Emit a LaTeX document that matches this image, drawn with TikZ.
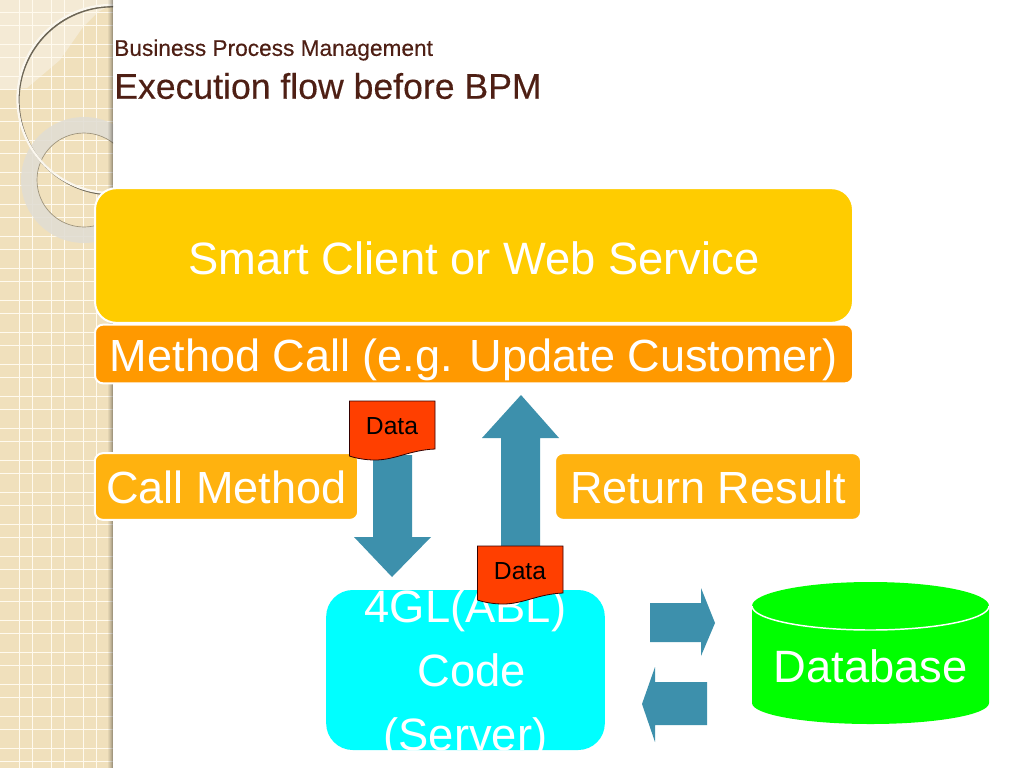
\documentclass[tikz,border=0pt]{standalone}
\usepackage{fontspec}
\setmainfont{Liberation Sans}
\newfontfamily\titlefont[FakeBold=0.35]{Liberation Sans}
\usetikzlibrary{calc}
\definecolor{strip}{HTML}{F0E0BC}
\definecolor{stripl}{HTML}{F4EAD5}
\definecolor{arrowc}{HTML}{3D90AC}
\definecolor{titlec}{HTML}{4E1F14}
\definecolor{datac}{HTML}{FF3F00}
\definecolor{pureCyan}{RGB}{0,255,255}
\definecolor{pureGreen}{RGB}{0,255,0}
\definecolor{ringc}{HTML}{E1DDD3}
\newcommand{\basetext}[2]{\raisebox{#1}[0pt][0pt]{#2}}
\tikzset{
  x=0.75pt,y=-0.75pt,
  box/.style={draw=white,line width=1.5pt,inner sep=0pt,text=white,font=\fontsize{34}{39}\selectfont,align=center},
  blockarrow/.style={fill=arrowc,draw=none},
  note/.style={fill=datac,draw=black!80!red,line width=0.6pt},
  notetext/.style={font=\fontsize{18.5}{22}\selectfont,text=black,inner sep=0pt},
  gridline/.style={draw={rgb,255:red,255;green,250;blue,238},line width=0.75pt}
}
\begin{document}
\begin{tikzpicture}
\useasboundingbox (0,0) rectangle (1024,768);
\fill[white] (0,0) rectangle (1024,768);
% side strip
\fill[strip] (0,0) rectangle (113,768);
\fill[stripl] (0,0) -- (113,0) -- (113,4) -- (98,12) -- (83,27) -- (60,60) -- (27,88) -- (0,90) -- cycle;
\begin{scope}
\clip (0,0) rectangle (113,768);
\foreach \i in {0,1,2,3} {
  \draw[gridline] ({19.3+32*\i},0) -- ({19.3+32*\i},768);
  \draw[gridline] ({32.3+32*\i},0) -- ({32.3+32*\i},768);
}
\foreach \i in {0,...,24} {
  \draw[gridline] (0,{12.3+32*\i}) -- (113,{12.3+32*\i});
  \draw[gridline] (0,{25.3+32*\i}) -- (113,{25.3+32*\i});
}
\draw[line width=12pt,draw=ringc,opacity=0.88] (84,180) circle[radius=55];
\draw[black!35!strip,line width=0.5pt] (84,180) circle[radius=47];
\draw[black!55!strip,line width=1.4pt] (112.7,100.5) circle[radius=94];
\draw[white!75!strip,line width=1.7pt] (111.5,99) circle[radius=94];
\foreach \i/\o in {0/0.05,1/0.1,2/0.16,3/0.23,4/0.32} {
  \fill[black,opacity=\o] ({108+\i},0) rectangle ({109+\i},768);
}
\end{scope}
% title
\node[anchor=west,inner sep=0pt,text=titlec,font=\titlefont\fontsize{17}{20}\selectfont] (t1) at (114,50) {Business Process Management};
\node[anchor=west,inner sep=0pt,text=titlec,font=\titlefont\fontsize{26.7}{30}\selectfont] (t2) at (114,86) {Execution flow before BPM};
% boxes
\node[box,fill={rgb,255:red,255;green,204;blue,0},rounded corners=16pt,minimum width=568.5pt,minimum height=101pt] (client) at (474,255.5) {\basetext{-13.9pt}{Smart Client or Web Service}};
\node[box,fill={rgb,255:red,255;green,153;blue,0},rounded corners=6pt,minimum width=568.5pt,minimum height=44pt] (call) at (474,354) {\basetext{-13pt}{\fontsize{33.8}{39}\selectfont Method Call (e.g. Update Customer)}};
\node[box,fill={rgb,255:red,255;green,178;blue,15},rounded corners=6pt,minimum width=197.5pt,minimum height=50pt] (cm) at (226.5,486.5) {\basetext{-12.4pt}{\fontsize{33.8}{39}\selectfont Call Method}};
\node[box,fill={rgb,255:red,255;green,178;blue,15},rounded corners=6pt,minimum width=229.5pt,minimum height=50pt] (rr) at (708,486.5) {\basetext{-12.4pt}{\fontsize{33.8}{39}\selectfont Return Result}};
\node[fill=pureCyan,draw=none,rounded corners=20pt,minimum width=209pt,minimum height=120pt,inner sep=0pt] (code) at (465.5,670) {};
\node[inner sep=0pt,text=white,font=\fontsize{34}{48}\selectfont,align=center] (codetext) at (465.5,674.5) {4GL(ABL)\\\ Code\\(Server)};
% arrows
\fill[blockarrow] (373,455) -- (412,455) -- (412,537) -- (431,537) -- (392,577) -- (354,537) -- (373,537) -- cycle;
\fill[blockarrow] (501,546) -- (501,438) -- (482,438) -- (521,395) -- (559,438) -- (540,438) -- (540,546) -- cycle;
\fill[blockarrow] (650,603) -- (701,603) -- (701,588) -- (715,623) -- (701,656) -- (701,642) -- (650,642) -- cycle;
\fill[blockarrow] (707,682) -- (655,682) -- (655,667) -- (642,704) -- (655,742) -- (655,725) -- (707,725) -- cycle;
% data notes
\draw[note] (349.5,401) -- (435,401) -- (435,449) .. controls (410,450) and (395,460) .. (375,460) .. controls (365,460) and (355,458) .. (349.5,456) -- cycle;
\node[notetext] (d1) at (392,426) {Data};
\draw[note] (477.5,546) -- (563,546) -- (563,593) .. controls (538,594) and (523,604) .. (503,604) .. controls (493,604) and (483,602) .. (477.5,600) -- cycle;
\node[notetext] (d2) at (520,571) {Data};
% database
\fill[pureGreen] (752,606) -- (752,703) arc[start angle=180,end angle=0,x radius=118.5,y radius=21] -- (989,606) -- cycle;
\fill[pureGreen] (870.5,606) ellipse[x radius=118.5,y radius=24];
\draw[white,line width=1.1pt] (752,606) arc[start angle=180,end angle=0,x radius=118.5,y radius=24];
\node[inner sep=0pt,text=white,font=\fontsize{34}{38}\selectfont] (db) at (870.5,666) {Database};
\end{tikzpicture}
\end{document}
